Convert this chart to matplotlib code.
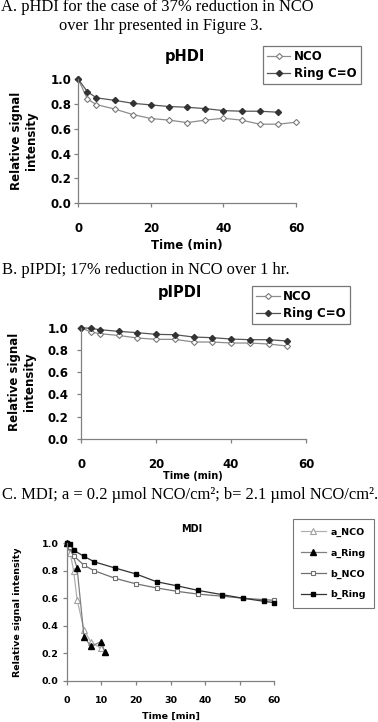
import matplotlib
matplotlib.use("Agg")
import matplotlib.pyplot as plt
from matplotlib.transforms import Bbox

# ---------------- data ----------------
a_time = [0, 2.5, 5, 10, 15, 20, 25, 30, 35, 40, 45, 50, 55, 60]
a_nco = [1.0, 0.84, 0.795, 0.76, 0.715, 0.683, 0.67, 0.65, 0.67, 0.685, 0.67, 0.637, 0.637, 0.653]
a_ring_time = [0, 2.5, 5, 10, 15, 20, 25, 30, 35, 40, 45, 50, 55]
a_ring = [1.0, 0.90, 0.85, 0.83, 0.806, 0.793, 0.78, 0.774, 0.763, 0.747, 0.742, 0.742, 0.734]

b_time = [0, 2.5, 5, 10, 15, 20, 25, 30, 35, 40, 45, 50, 55]
b_nco = [1.0, 0.961, 0.946, 0.93, 0.907, 0.895, 0.895, 0.871, 0.871, 0.862, 0.862, 0.853, 0.835]
b_ring = [1.0, 0.994, 0.982, 0.967, 0.955, 0.94, 0.937, 0.916, 0.91, 0.898, 0.892, 0.892, 0.88]

c_a_nco_time = [0, 1, 2, 3, 5, 7, 10, 11]
c_a_nco = [1.0, 0.93, 0.80, 0.59, 0.37, 0.28, 0.235, 0.21]
c_a_ring_time = [0, 1, 3, 5, 7, 10, 11]
c_a_ring = [1.0, 0.98, 0.82, 0.32, 0.25, 0.285, 0.21]
c_b_time = [0, 1, 2, 5, 8, 14, 20, 26, 32, 38, 45, 51, 57, 60]
c_b_nco = [1.0, 0.97, 0.91, 0.84, 0.80, 0.745, 0.705, 0.675, 0.65, 0.63, 0.615, 0.60, 0.59, 0.585]
c_b_ring = [1.0, 0.995, 0.95, 0.905, 0.865, 0.82, 0.777, 0.72, 0.69, 0.657, 0.626, 0.60, 0.578, 0.568]

yticks = [0.0, 0.2, 0.4, 0.6, 0.8, 1.0]
xticks_ab = [0, 20, 40, 60]
xticks_c = [0, 10, 20, 30, 40, 50, 60]

# ---------------- figure ----------------
W, H = 378, 722
fig = plt.figure(figsize=(W / 100, H / 100), dpi=100)
fig.patch.set_facecolor("white")

SANS = "DejaVu Sans"
SERIF = "Liberation Serif"
HFS = 11.9


def ax_px(l, t, r, b):
    return fig.add_axes([l / W, 1 - b / H, (r - l) / W, (b - t) / H])


def ftext(x, y, s, **kw):
    return fig.text(x / W, 1 - y / H, s, **kw)


def style_axes(ax, xt, fs, ypad, xpad):
    ax.set_xlim(0, 60)
    ax.set_ylim(0, 1)
    ax.set_xticks(xt)
    ax.set_yticks(yticks)
    ax.set_yticklabels([f"{v:.1f}" for v in yticks])
    for s in ["top", "right"]:
        ax.spines[s].set_visible(False)
    for s in ["left", "bottom"]:
        ax.spines[s].set_color("#808080")
        ax.spines[s].set_linewidth(0.9)
    ax.tick_params(axis="both", direction="out", length=3, width=0.9, color="#808080",
                   labelsize=fs)
    ax.tick_params(axis="y", pad=ypad)
    ax.tick_params(axis="x", pad=xpad)
    for lab in ax.get_xticklabels() + ax.get_yticklabels():
        lab.set_fontweight("bold")
        lab.set_family(SANS)
    ax.patch.set_alpha(0)


# ---------- Panel A ----------
ftext(157, 7, "A. pHDI for the case of 37% reduction in NCO", family=SERIF,
      fontsize=HFS, ha="center", va="center")
ftext(161, 26, "over 1hr presented in Figure 3.", family=SERIF,
      fontsize=HFS, ha="center", va="center")

axA = ax_px(78.3, 79.3, 296, 203)
style_axes(axA, xticks_ab, 8.5, 2, 11)
axA.plot(a_time, a_nco, color="#8c8c8c", lw=0.9, marker="D", ms=3.1,
         mfc="white", mec="#7a7a7a", mew=0.8, label="NCO", clip_on=False)
axA.plot(a_ring_time, a_ring, color="#555555", lw=0.9, marker="D", ms=3.1,
         mfc="#333333", mec="#333333", label="Ring C=O", clip_on=False)
ftext(185, 57, "pHDI", family=SANS, fontweight="bold", fontsize=10.5, ha="center", va="center")
ftext(24, 141, "Relative signal\nintensity", family=SANS, fontweight="bold", fontsize=8.5,
      ha="center", va="center", rotation=90, multialignment="center")
ftext(187, 245, "Time (min)", family=SANS, fontweight="bold", fontsize=8.5, ha="center", va="center")
legA = axA.legend(loc="upper left", bbox_to_anchor=(262.7 / W, 1 - 45.7 / H),
                  bbox_transform=fig.transFigure, borderaxespad=0, frameon=True,
                  fancybox=False, edgecolor="#555555", numpoints=1, handlelength=2.0,
                  handletextpad=0.3, borderpad=0.35, labelspacing=0.35,
                  prop={"family": SANS, "weight": "bold", "size": 8.5})
legA.get_frame().set_linewidth(0.9)

# ---------- Panel B ----------
ftext(2, 270, "B. pIPDI; 17% reduction in NCO over 1 hr.", family=SERIF,
      fontsize=HFS, ha="left", va="center")
axB = ax_px(81.3, 327.7, 306, 438.7)
style_axes(axB, xticks_ab, 8.5, 6, 11)
axB.plot(b_time, b_nco, color="#8c8c8c", lw=0.9, marker="D", ms=3.1,
         mfc="white", mec="#7a7a7a", mew=0.8, label="NCO", clip_on=False)
axB.plot(b_time, b_ring, color="#555555", lw=0.9, marker="D", ms=3.1,
         mfc="#333333", mec="#333333", label="Ring C=O", clip_on=False)
ftext(180, 292, "pIPDI", family=SANS, fontweight="bold", fontsize=10.5, ha="center", va="center")
ftext(22, 382, "Relative signal\nintensity", family=SANS, fontweight="bold", fontsize=8.5,
      ha="center", va="center", rotation=90, multialignment="center")
ftext(193, 476, "Time (min)", family=SANS, fontweight="bold", fontsize=7, ha="center", va="center")
legB = axB.legend(loc="upper left", bbox_to_anchor=(252 / W, 1 - 285.7 / H),
                  bbox_transform=fig.transFigure, borderaxespad=0, frameon=True,
                  fancybox=False, edgecolor="#555555", numpoints=1, handlelength=2.0,
                  handletextpad=0.3, borderpad=0.35, labelspacing=0.35,
                  prop={"family": SANS, "weight": "bold", "size": 8.5})
legB.get_frame().set_linewidth(0.9)

# ---------- Panel C ----------
ftext(2, 495, "C. MDI; a = 0.2 \u00b5mol NCO/cm\u00b2; b= 2.1 \u00b5mol NCO/cm\u00b2.", family=SERIF,
      fontsize=HFS, ha="left", va="center")
axC = ax_px(66.7, 543.3, 274.3, 680.7)
style_axes(axC, xticks_c, 6.8, 3, 8)
axC.plot(c_a_nco_time, c_a_nco, color="#b0b0b0", lw=0.9, marker="^", ms=4.0,
         mfc="white", mec="#a0a0a0", mew=0.8, label="a_NCO", clip_on=False)
axC.plot(c_a_ring_time, c_a_ring, color="#808080", lw=0.9, marker="^", ms=4.0,
         mfc="black", mec="black", label="a_Ring", clip_on=False)
axC.plot(c_b_time, c_b_nco, color="#707070", lw=0.9, marker="s", ms=3.3,
         mfc="white", mec="#707070", mew=0.8, label="b_NCO", clip_on=False)
axC.plot(c_b_time, c_b_ring, color="#333333", lw=0.9, marker="s", ms=3.3,
         mfc="black", mec="black", label="b_Ring", clip_on=False)
ftext(191.7, 529, "MDI", family=SANS, fontweight="bold", fontsize=7, ha="center", va="center")
yl = ftext(17.5, 677, "Relative signal intensity", family=SANS, fontweight="bold", fontsize=6.8,
           ha="center", va="bottom", rotation=90)
yl.set_clip_box(Bbox.from_extents(0, 0, W, H - 549))
yl.set_clip_on(True)
ftext(170.5, 716.7, "Time [min]", family=SANS, fontweight="bold", fontsize=6.8, ha="center", va="center")
legC = axC.legend(loc="upper left", bbox_to_anchor=(292.7 / W, 1 - 519 / H),
                  bbox_transform=fig.transFigure, borderaxespad=0, frameon=True,
                  fancybox=False, edgecolor="#555555", numpoints=1, handlelength=2.6,
                  handletextpad=0.5, borderpad=0.9, labelspacing=1.25,
                  prop={"family": SANS, "weight": "bold", "size": 6.8})
legC.get_frame().set_linewidth(0.8)

fig.savefig("out.png", dpi=100, facecolor="white")
